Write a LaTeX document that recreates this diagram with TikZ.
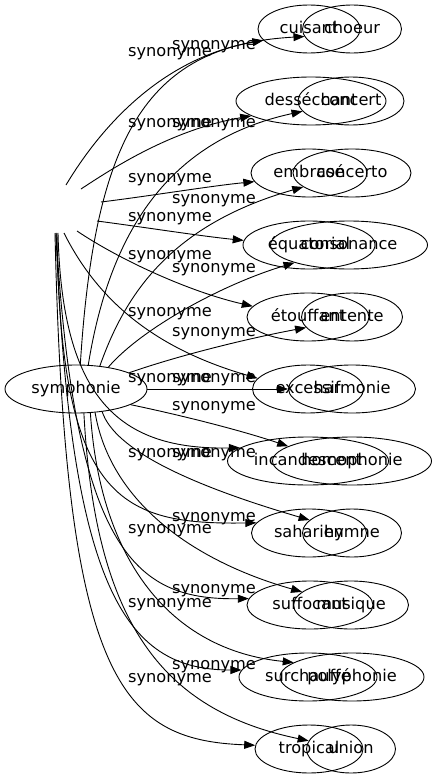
\documentclass[tikz,border=0pt]{standalone}
\usepackage{fontspec}
\setmainfont{DejaVu Sans}
\usetikzlibrary{shapes.geometric,arrows.meta}
\begin{document}
\begin{tikzpicture}[x=1pt,y=-1pt,
  every node/.style={font=\fontsize{16.2}{19}\selectfont},
  ell/.style={draw, ellipse, inner sep=0pt, minimum height=48pt, text height=11.8pt, text depth=3.8pt, line width=0.9pt},
  lbl/.style={inner sep=0pt, text height=11.8pt, text depth=3.8pt},
  edge/.style={draw, line width=0.9pt, -{Triangle[length=11pt,width=8pt]}}]
\useasboundingbox (0,0) rectangle (436,779);
% source node of the second graph
\node[ell, minimum width=142pt] (sym) at (76,389) {symphonie};
% first graph targets
\node[ell, minimum width=102pt] (cuisant) at (309,29) {cuisant};
\node[ell, minimum width=150pt] (dess) at (311,101) {desséchant};
\node[ell, minimum width=116pt] (embrase) at (309,173) {embrasé};
\node[ell, minimum width=132pt] (equat) at (309,245) {équatorial};
\node[ell, minimum width=122pt] (etouf) at (308,317) {étouffant};
\node[ell, minimum width=111pt] (excessif) at (308,389) {excessif};
\node[ell, minimum width=161pt] (incand) at (308,461) {incandescent};
\node[ell, minimum width=115pt] (saharien) at (309,533) {saharien};
\node[ell, minimum width=126pt] (suffocant) at (310,605) {suffocant};
\node[ell, minimum width=138pt] (surch) at (308,677) {surchauffé};
\node[ell, minimum width=108pt] (tropical) at (309,749) {tropical};
% second graph targets
\node[ell, minimum width=99pt] (choeur) at (352,29) {choeur};
\node[ell, minimum width=106pt] (concert) at (351,101) {concert};
\node[ell, minimum width=118pt] (concerto) at (352,173) {concerto};
\node[ell, minimum width=157pt] (consonance) at (349,245) {consonance};
\node[ell, minimum width=101pt] (entente) at (352,317) {entente};
\node[ell, minimum width=127pt] (harmonie) at (352,389) {harmonie};
\node[ell, minimum width=159pt] (homophonie) at (352,461) {homophonie};
\node[ell, minimum width=99pt] (hymne) at (352,533) {hymne};
\node[ell, minimum width=115pt] (musique) at (351,605) {musique};
\node[ell, minimum width=144pt] (polyphonie) at (352,677) {polyphonie};
\node[ell, minimum width=89pt] (union) at (351,749) {union};
% tails of the first graph's edges
\coordinate (a1) at (66,185);
\coordinate (a2) at (81,189);
\coordinate (a3) at (101,202);
\coordinate (a4) at (97,221);
\coordinate (a5) at (77,231);
\coordinate (a6) at (64,233);
\coordinate (a7) at (58,233);
\coordinate (a8) at (57,233);
\coordinate (a9) at (56,233);
\coordinate (a10) at (56,233);
\coordinate (a11) at (55,233);
% first graph edges
\draw[edge] (a1) .. controls (90,145) and (150,60) .. (cuisant.194);
\draw[edge] (a2) .. controls (110,170) and (170,130) .. (dess.194);
\draw[edge] (a3) .. controls (150,196) and (210,186) .. (embrase.189);
\draw[edge] (a4) .. controls (150,228) and (200,236) .. (equat.176);
\draw[edge] (a5) .. controls (120,260) and (190,292) .. (etouf.169);
\draw[edge] (a6) .. controls (100,305) and (160,350) .. (excessif.168);
\draw[edge] (a7) .. controls (62,400) and (120,450) .. (incand.169);
\draw[edge] (a8) .. controls (60,500) and (120,525) .. (saharien.169);
\draw[edge] (a9) .. controls (75,560) and (140,600) .. (suffocant.174);
\draw[edge] (a10) .. controls (70,600) and (130,670) .. (surch.174);
\draw[edge] (a11) .. controls (65,680) and (120,740) .. (tropical.176);
% second graph edges
\draw[edge] (sym.80) .. controls (95,130) and (150,45) .. (choeur.189);
\draw[edge] (sym.63) .. controls (110,230) and (170,140) .. (concert.192);
\draw[edge] (sym.44) .. controls (125,295) and (170,225) .. (concerto.196);
\draw[edge] (sym.34) .. controls (140,330) and (220,285) .. (consonance.198);
\draw[edge] (sym.17) .. controls (180,355) and (250,338) .. (entente.193);
\draw[edge] (sym.0) -- (harmonie.180);
\draw[edge] (sym.-16) .. controls (180,415) and (240,430) .. (homophonie.167);
\draw[edge] (sym.-41) .. controls (115,450) and (190,485) .. (hymne.163);
\draw[edge] (sym.-51) .. controls (110,500) and (190,560) .. (musique.165);
\draw[edge] (sym.-59) .. controls (100,560) and (170,650) .. (polyphonie.166);
\draw[edge] (sym.-72) .. controls (95,620) and (160,710) .. (union.169);
% edge labels, first graph
\node[lbl] (la1) at (170,52) {synonyme};
\node[lbl] (la2) at (170,123) {synonyme};
\node[lbl] (la3) at (170,178) {synonyme};
\node[lbl] (la4) at (170,217) {synonyme};
\node[lbl] (la5) at (170,255) {synonyme};
\node[lbl] (la6) at (170,312) {synonyme};
\node[lbl] (la7) at (170,378) {synonyme};
\node[lbl] (la8) at (170,453) {synonyme};
\node[lbl] (la9) at (170,529) {synonyme};
\node[lbl] (la10) at (170,603) {synonyme};
\node[lbl] (la11) at (170,678) {synonyme};
% edge labels, second graph
\node[lbl] (lb1) at (214,45) {synonyme};
\node[lbl] (lb2) at (214,123) {synonyme};
\node[lbl] (lb3) at (214,199) {synonyme};
\node[lbl] (lb4) at (214,268) {synonyme};
\node[lbl] (lb5) at (214,332) {synonyme};
\node[lbl] (lb6) at (214,378) {synonyme};
\node[lbl] (lb7) at (214,406) {synonyme};
\node[lbl] (lb8) at (214,453) {synonyme};
\node[lbl] (lb9) at (214,517) {synonyme};
\node[lbl] (lb10) at (214,589) {synonyme};
\node[lbl] (lb11) at (214,665) {synonyme};
\end{tikzpicture}
\end{document}
